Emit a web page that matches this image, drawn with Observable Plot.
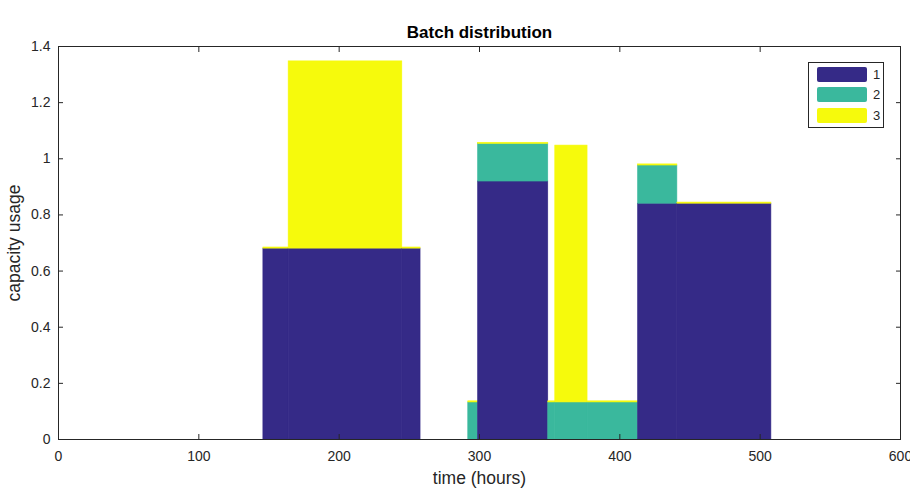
<!DOCTYPE html>
<html>
<head>
<meta charset="utf-8">
<script src="https://cdn.jsdelivr.net/npm/d3@7"></script>
<script src="https://cdn.jsdelivr.net/npm/@observablehq/plot@0.6"></script>
<style>
  html, body { margin: 0; padding: 0; background: #ffffff; }
  #wrap { position: relative; width: 910px; height: 488px; overflow: hidden; }
  #chart svg { display: block; margin-left: 5px; margin-top: 11px; background: #f0f0f0; }
  #legend { position: absolute; left: 808px; top: 62px; width: 74px; height: 64px;
    border: 1px solid #262626; background: #ffffff; font-family: "Liberation Sans", Arial, sans-serif;
    font-size: 13px; color: #262626; }
  .row { position: absolute; left: 8px; height: 16px; }
  .sw { position: absolute; left: 0; top: 0; width: 50px; height: 15px; border-radius: 2px; }
  .lb { position: absolute; left: 56px; top: 0px; line-height: 15px; }
</style>
</head>
<body>
<div id="wrap"><div id="chart"></div><div id="legend"></div></div>
<script>
// segment boundaries (hours)
const segStart = [146, 164, 245, 292, 299, 349, 354, 377, 413, 441];
const segEnd   = [164, 245, 258, 299, 349, 354, 377, 413, 441, 508];
// capacity usage per batch in each segment
const batch1 = [0.680, 0.680, 0.680, 0.000, 0.919, 0.000, 0.000, 0.000, 0.840, 0.840];
const batch2 = [0.000, 0.000, 0.000, 0.132, 0.134, 0.132, 0.132, 0.132, 0.136, 0.000];
const batch3 = [0.004, 0.667, 0.004, 0.004, 0.004, 0.004, 0.915, 0.004, 0.004, 0.004];
const batchNames = ["1", "2", "3"];
const batchColors = ["#352a87", "#3ab89d", "#f6fa0c"];
const xTicks = [0, 100, 200, 300, 400, 500, 600];
const yTicks = [0, 0.2, 0.4, 0.6, 0.8, 1, 1.2, 1.4];

const series = [batch1, batch2, batch3];
const rows = [];
segStart.forEach((s, i) => {
  let base = 0;
  series.forEach((vals, k) => {
    const v = vals[i];
    if (v > 0) rows.push({start: s, end: segEnd[i], y1: base, y2: base + v, batch: batchNames[k]});
    base += v;
  });
});

const ink = "#262626";
const chart = Plot.plot({
  width: 905,
  height: 477,
  marginLeft: 53,
  marginRight: 10,
  marginTop: 35,
  marginBottom: 49,
  style: {background: "transparent", fontFamily: "'Liberation Sans', Arial, sans-serif", fontSize: "14px", color: ink},
  x: {domain: [0, 600]},
  y: {domain: [0, 1.4]},
  color: {domain: batchNames, range: batchColors},
  marks: [
    Plot.frame({fill: "#ffffff", stroke: null}),
    Plot.rect(rows, {x1: "start", x2: "end", y1: "y1", y2: "y2", fill: "batch", stroke: "batch", strokeWidth: 0.6}),
    Plot.frame({stroke: ink, strokeWidth: 1}),
    Plot.axisX({anchor: "bottom", ticks: xTicks, tickSize: -5, tickPadding: 17, label: null, tickFormat: d => String(d), stroke: ink, fill: ink}),
    Plot.axisX({anchor: "top", ticks: xTicks, tickSize: -5, label: null, tickFormat: () => "", stroke: ink}),
    Plot.axisY({anchor: "left", ticks: yTicks, tickSize: -5, tickPadding: 13, label: null, tickFormat: d => String(d), stroke: ink, fill: ink}),
    Plot.axisY({anchor: "right", ticks: yTicks, tickSize: -5, label: null, tickFormat: () => "", stroke: ink}),
    Plot.text(["Batch distribution"], {frameAnchor: "top", dy: -21, fontWeight: "bold", fontSize: 17, fill: "#000000"}),
    Plot.text(["time (hours)"], {frameAnchor: "bottom", dy: 44, fontSize: 17.5, fill: ink}),
    Plot.text(["capacity usage"], {frameAnchor: "left", dx: -44, rotate: -90, textAnchor: "middle", fontSize: 17.5, fill: ink})
  ]
});
document.getElementById("chart").appendChild(chart);

const legend = document.getElementById("legend");
const rowTops = [4, 24, 45];
batchNames.forEach((name, i) => {
  const r = document.createElement("div");
  r.className = "row";
  r.style.top = rowTops[i] + "px";
  r.innerHTML = `<div class="sw" style="background:${batchColors[i]}"></div><div class="lb">${name}</div>`;
  legend.appendChild(r);
});
</script>
</body>
</html>
